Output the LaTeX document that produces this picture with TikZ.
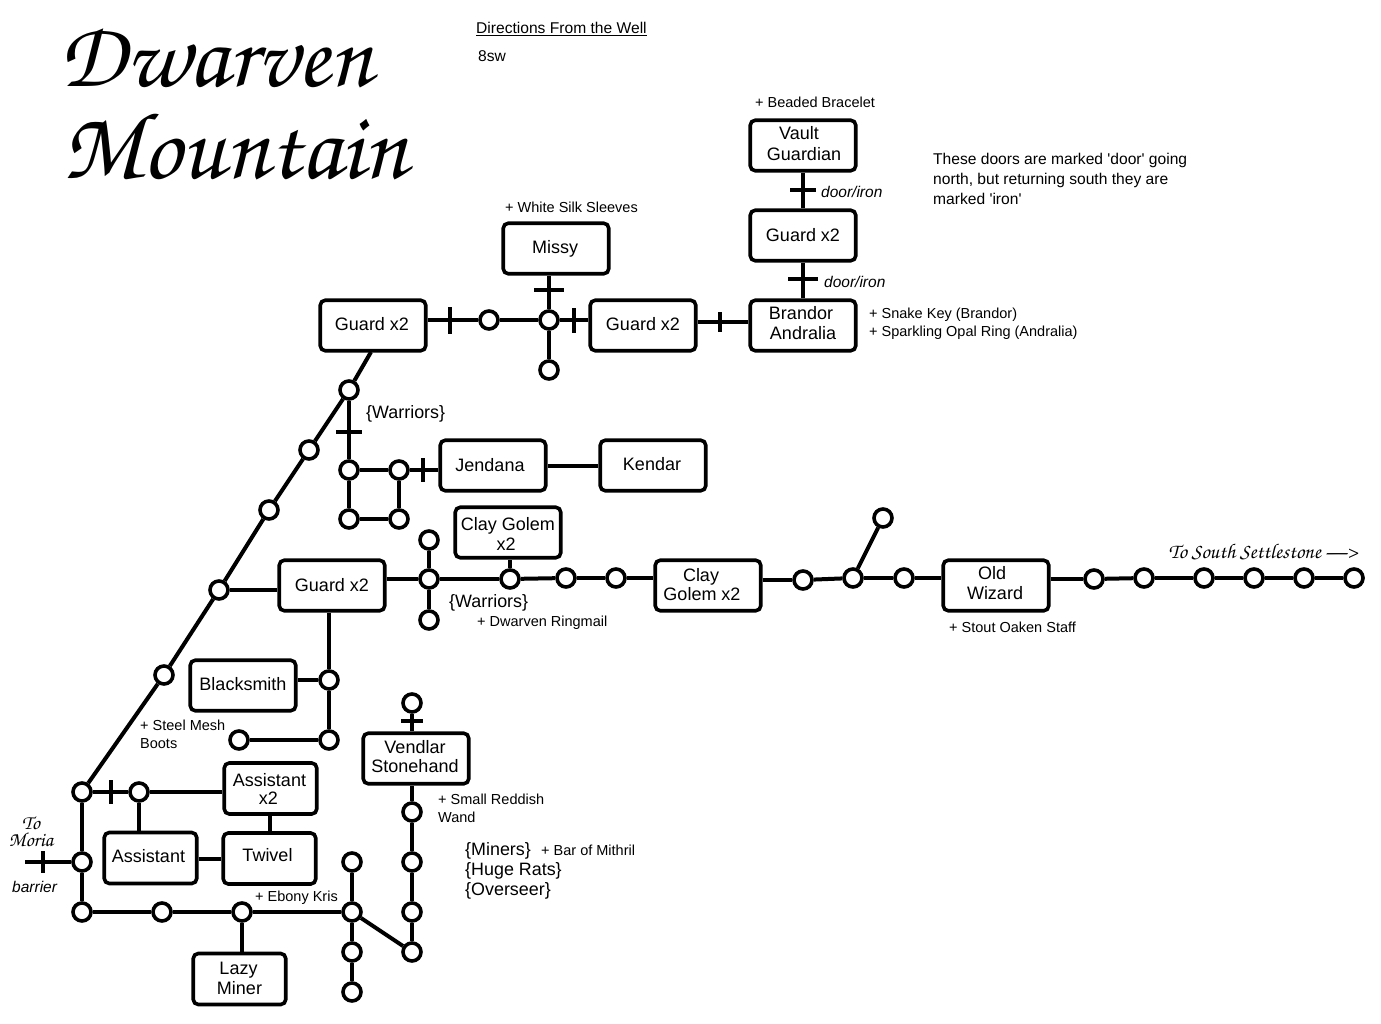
\documentclass[tikz,border=0pt]{standalone}
\usepackage[T1]{fontenc}
\usepackage{fontspec}
\setmainfont{Liberation Sans}
\usetikzlibrary{positioning}
\newcommand{\swash}[1]{\fontencoding{T1}\fontfamily{pzc}\fontseries{mb}\fontshape{it}\fontsize{#1}{#1}\selectfont}
\newcommand{\nudge}[3]{\kern#1pt\raisebox{#2pt}[\height][\depth]{#3}\kern-#1pt}

\begin{document}
\begin{tikzpicture}[x=1pt,y=-1pt]
  \tikzset{
    room/.style={draw, line width=3.6pt, rounded corners=5pt, align=center, minimum width=105.5pt,
      minimum height=50.5pt, inner sep=0pt, font=\fontsize{18}{20}\selectfont},
    smallroom/.style={room, minimum width=92.5pt, minimum height=51pt},
    stop/.style={circle, draw, fill=white, line width=3.6pt, minimum size=18pt, inner sep=0pt},
    road/.style={line width=4pt},
    doorv/.style={fill=black, inner sep=0pt, minimum width=4pt, minimum height=#1},
    doorh/.style={fill=black, inner sep=0pt, minimum height=4pt, minimum width=#1},
    item/.style={anchor=west, align=left, inner sep=0pt, font=\fontsize{14.5}{18}\selectfont},
    note/.style={anchor=west, align=left, inner sep=0pt, font=\fontsize{15.6}{20}\selectfont},
    foes/.style={anchor=west, align=left, inner sep=0pt, font=\fontsize{17.9}{20}\selectfont},
    doorname/.style={anchor=west, inner sep=0pt, font=\fontsize{15.5}{18}\selectfont\itshape},
    title/.style={anchor=base west, inner sep=0pt},
    scrawl/.style={align=center, inner sep=0pt},
  }
  \useasboundingbox (0,0) rectangle (1381,1024);

  \node[title, font=\swash{94}] (titleA) at (59,87) {Dwarven};
  \node[title, font=\swash{96}] (titleB) at (62,179) {Mountain};
  \node[note] (well) at (476,29) {\underline{Directions From the Well}};
  \node[note] (sw) at (478,56) {8sw};
  \node[note] (doors) at (933,179) {These doors are marked \textquotesingle door\textquotesingle{} going\\north, but returning south they are\\marked \textquotesingle iron\textquotesingle};

  \node[room] (guardA) at (373,325.5) {\nudge{-1}{1}{Guard x2}};
  \node[room] (missy) at (556,248.5) {\nudge{-1}{0}{Missy}};
  \node[room] (guardB) at (643,325.5) {\nudge{0}{1}{Guard x2}};
  \node[room] (brandor) at (803,325.5) {\nudge{-2}{2}{Brandor}\\\nudge{0}{2}{Andralia}};
  \node[room] (guardC) at (803,235.5) {Guard x2};
  \node[room] (vault) at (803,145.5) {\nudge{-4}{2}{Vault}\\\nudge{1}{1}{Guardian}};
  \node[room] (jendana) at (493,465.5) {\nudge{-3}{0}{Jendana}};
  \node[room] (kendar) at (653,465.5) {\nudge{-1}{1}{Kendar}};
  \node[room] (golemA) at (508,532.5) {\nudge{0}{-1}{Clay Golem}\\\nudge{-2}{-1}{x2}};
  \node[room] (guardD) at (332,585.5) {Guard x2};
  \node[room] (golemB) at (708,585.5) {\nudge{-7}{0}{Clay}\\\nudge{-6}{1}{Golem x2}};
  \node[room] (wizard) at (996,585.5) {\nudge{-4}{2}{Old}\\\nudge{-1}{2}{Wizard}};
  \node[room] (smith) at (243,685.5) {\nudge{0}{1}{Blacksmith}};
  \node[room] (vendlar) at (416,758.5) {\nudge{-1}{1}{Vendlar}\\\nudge{-1}{2}{Stonehand}};
  \node[smallroom] (helpers) at (270.5,788.5) {\nudge{-1}{-1}{Assistant}\\\nudge{-2}{1}{x2}};
  \node[smallroom] (helper) at (150.5,858) {\nudge{-2}{2}{Assistant}};
  \node[smallroom] (twivel) at (269.5,858.5) {\nudge{-2}{3}{Twivel}};
  \node[smallroom] (lazy) at (239.5,979) {\nudge{-1}{1}{Lazy}\\\nudge{0}{1}{Miner}};

  \foreach \name/\x/\y in {a/489/320, b/549/320, c/549/370, d/349/390, e/349/470, f/399/470, g/349/519,
      h/399/519, i/309/450, j/269/510, k/219/590, l/164/675, m/82/792, n/139/792, o/82/862, p/82/912,
      q/162/912, r/242/912, s/352/912, t/352/862, u/352/952, v/352/992, w/412/952, x/412/912, y/412/862,
      z/412/812, top/412/703, aa/429/579, ab/429/540, ac/429/620, ad/510/579, ae/566/578, af/616/578,
      ag/803/580, ah/853/578, ai/883/518, aj/904/578, ak/1094/579, al/1144/578, am/1204/578, an/1254/578,
      ao/1304/578, ap/1354/578, aq/329/680, ar/329/740, as/239/740}
    \node[stop] (\name) at (\x,\y) {};
  \coordinate (moria) at (25,862);
  \coordinate (railA) at (0,322);
  \coordinate (railB) at (0,859);
  \coordinate (guardfoot) at (371,352);

  \draw[road] (a -| guardA.east) -- node[doorv=27pt, pos=.45] (doorA) {} (a);
  \draw[road] (a) -- (b);
  \draw[road] (b) -- node[doorv=25pt, pos=.5] (doorB) {} (b -| guardB.west);
  \draw[road] (b) -- (c);
  \draw[road] (b) -- node[doorh=30pt, pos=.57] (doorC) {} (b |- missy.south);
  \draw[road] (railA -| guardB.east) -- node[doorv=20pt, pos=.45] (doorD) {} (railA -| brandor.west);
  \draw[road] (brandor.north) -- node[doorh=30pt, pos=.55] (doorE) {} (guardC.south);
  \draw[road] (guardC.north) -- node[doorh=26pt, pos=.5] (doorF) {} (vault.south);

  \draw[road] (guardfoot) -- (d);
  \draw[road] (d) -- (i);
  \draw[road] (i) -- (j);
  \draw[road] (j) -- (k);
  \draw[road] (k) -- (l);
  \draw[road] (l) -- (m);
  \draw[road] (d) -- node[doorh=26pt, pos=.53] (doorG) {} (e);
  \draw[road] (e) -- (f);
  \draw[road] (f) -- node[doorv=24pt, pos=.45] (doorH) {} (f -| jendana.west);
  \draw[road] (jendana) -- (kendar);
  \draw[road] (e) -- (g);
  \draw[road] (g) -- (h);
  \draw[road] (f) -- (h);

  \draw[road] (k) -- (k -| guardD.west);
  \draw[road] (aa -| guardD.east) -- (aa);
  \draw[road] (aa) -- (ab);
  \draw[road] (aa) -- (ac);
  \draw[road] (aa) -- (ad);
  \draw[road] (ad) -- (ad |- golemA.south);
  \draw[road] (ad) -- (ae);
  \draw[road] (ae) -- (af);
  \draw[road] (af) -- (af -| golemB.west);
  \draw[road] (ag -| golemB.east) -- (ag);
  \draw[road] (ag) -- (ah);
  \draw[road] (ah) -- (ai);
  \draw[road] (ah) -- (aj);
  \draw[road] (aj) -- (aj -| wizard.west);
  \draw[road] (ak -| wizard.east) -- (ak);
  \draw[road] (ak) -- (al);
  \draw[road] (al) -- (am);
  \draw[road] (am) -- (an);
  \draw[road] (an) -- (ao);
  \draw[road] (ao) -- (ap);

  \draw[road] (aq |- guardD.south) -- (aq);
  \draw[road] (aq) -- (aq -| smith.east);
  \draw[road] (aq) -- (ar);
  \draw[road] (ar) -- (as);

  \draw[road] (m) -- node[doorv=24pt, pos=.5] (doorI) {} (n);
  \draw[road] (n) -- (n -| helpers.west);
  \draw[road] (n) -- (n |- helper.north);
  \draw[road] (helpers.south -| twivel) -- (twivel.north);
  \draw[road] (railB -| helper.east) -- (railB -| twivel.west);
  \draw[road] (m) -- (o);
  \draw[road] (o) -- (p);
  \draw[road] (moria) -- node[doorv=22pt, pos=.4] (doorJ) {} (o);
  \draw[road] (p) -- (q);
  \draw[road] (q) -- (r);
  \draw[road] (r) -- (s);
  \draw[road] (r) -- (r |- lazy.north);
  \draw[road] (s) -- (t);
  \draw[road] (s) -- (u);
  \draw[road] (u) -- (v);
  \draw[road] (s) -- (w);
  \draw[road] (w) -- (x);
  \draw[road] (x) -- (y);
  \draw[road] (y) -- (z);
  \draw[road] (z) -- (z |- vendlar.south);
  \draw[road] (top) -- node[doorh=22pt, pos=.42] (doorK) {} (top |- vendlar.north);

  \node[item] (bracelet) at (755,102) {+ Beaded Bracelet};
  \node[item] (sleeves) at (505,207) {+ White Silk Sleeves};
  \node[item] (keys) at (869,324) {+ Snake Key (Brandor)\\+ Sparkling Opal Ring (Andralia)};
  \node[item] (ringmail) at (477,623) {+ Dwarven Ringmail};
  \node[item] (staff) at (949,627) {+ Stout Oaken Staff};
  \node[item] (boots) at (140,734) {+ Steel Mesh\\Boots};
  \node[item] (wand) at (438,808) {+ Small Reddish\\Wand};
  \node[item] (mithril) at (541,850) {+ Bar of Mithril};
  \node[item] (kris) at (255,898) {+ Ebony Kris};
  \node[foes] (warriorsA) at (366,414) {\{Warriors\}};
  \node[foes] (warriorsB) at (449,603) {\{Warriors\}};
  \node[foes] (miners) at (465,871) {\{Miners\}\\\{Huge Rats\}\\\{Overseer\}};
  \node[doorname] (ironA) at (821,192) {door/iron};
  \node[doorname] (ironB) at (824,282) {door/iron};
  \node[doorname] (barrier) at (12,887) {barrier};
  \node[scrawl, font=\swash{20}] (toMoria) at (31,832) {To\\[-3pt]Moria};
  \node[scrawl, font=\swash{21}] (toSouth) at (1263,552) {To South Settlestone ---{\char62}};

\end{tikzpicture}
\end{document}
